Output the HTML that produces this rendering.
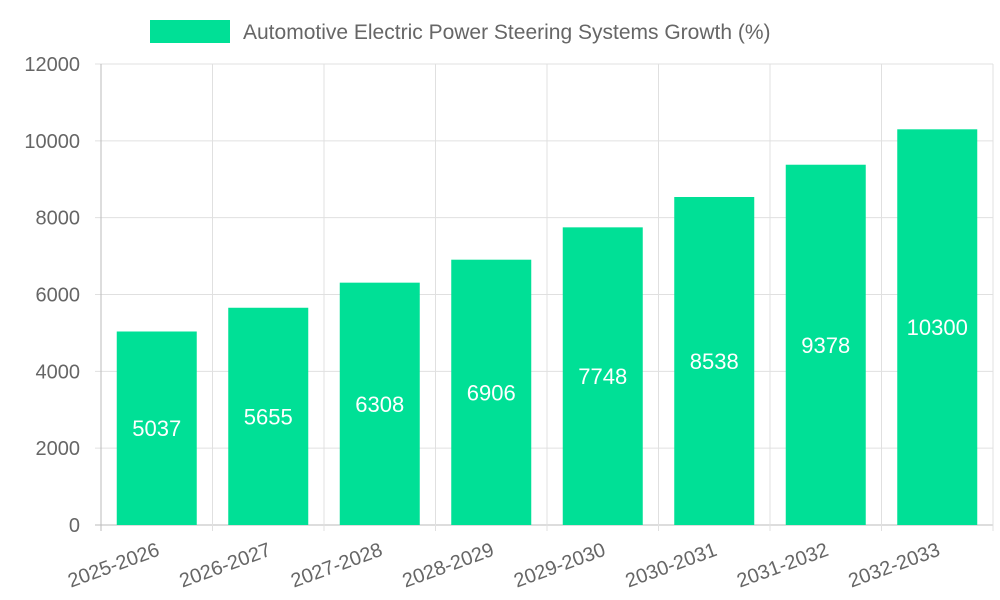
<!DOCTYPE html>
<html><head><meta charset="utf-8"><style>
body{margin:0;background:#fff;}
svg{display:block;font-family:"Liberation Sans",Arial,sans-serif;}
</style></head><body>
<svg id="chart" width="1000" height="600"></svg>
<script>
const categories=["2025-2026","2026-2027","2027-2028","2028-2029","2029-2030","2030-2031","2031-2032","2032-2033"];
const values=[5037,5655,6308,6906,7748,8538,9378,10300];
const yTicks=[0,2000,4000,6000,8000,10000,12000];
const seriesName="Automotive Electric Power Steering Systems Growth (%)";

const NS="http://www.w3.org/2000/svg";
const svg=document.getElementById('chart');
const L=101,R=993,T=64,B=525,YMAX=12000;
const band=(R-L)/categories.length;
const y=v=>B-(v/YMAX)*(B-T);
const xc=i=>L+band*(i+0.5);
function mk(tag,attrs,parent){const e=document.createElementNS(NS,tag);for(const k in attrs)e.setAttribute(k,attrs[k]);(parent||svg).appendChild(e);return e;}

const grid=mk('g',{});


yTicks.forEach(t=>{
  const ln=mk('line',{x1:L-6,x2:R,y1:y(t),y2:y(t),stroke:t===0?'#bbb':'#e0e0e0','stroke-width':1},grid);
  
  
  const tx=mk('text',{x:80,y:y(t)+7,'text-anchor':'end','font-size':20,fill:'#666'});
  tx.textContent=t;
  
  
});
for(let i=0;i<=categories.length;i++){
  const x=L+band*i;
  const ln=mk('line',{x1:x,x2:x,y1:T,y2:B+6,stroke:i===0?'#bbb':'#e0e0e0','stroke-width':1},grid);
  
  
}
categories.forEach((c,i)=>{
  const bw=80;
  const r=mk('rect',{x:xc(i)-bw/2,y:y(values[i]),width:bw,height:B-y(values[i]),fill:'#00e096'});
  
  
  const v=mk('text',{x:xc(i),y:(y(values[i])+B)/2+8,'text-anchor':'middle','font-size':22,fill:'#fff'});
  v.textContent=values[i];
  
  
  const lx=xc(i)+4,ly=B+30;
  const t=mk('text',{x:lx,y:ly,'text-anchor':'end','font-size':20,fill:'#666',transform:`rotate(-20 ${lx} ${ly})`});
  t.textContent=c;
  
  
});
const lg=mk('g',{});


mk('rect',{x:150,y:20,width:80,height:23,fill:'#00e096'},lg);
const lt=mk('text',{x:243,y:39,'font-size':21,fill:'#666'},lg);
lt.textContent=seriesName;
</script>
</body></html>
